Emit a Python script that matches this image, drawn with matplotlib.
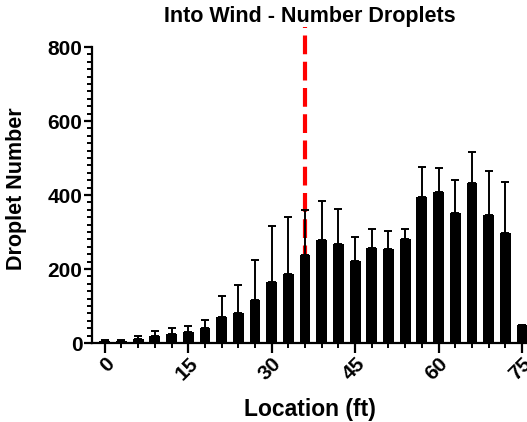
import numpy as np
import matplotlib
matplotlib.use("Agg")
from matplotlib import pyplot as plt
from matplotlib.ticker import MultipleLocator

plt.rcParams["font.family"] = ["Liberation Sans", "DejaVu Sans"]
plt.rcParams["font.weight"] = "bold"

# Location of each sampling point (ft) and droplet counts
location = [0, 3, 6, 9, 12, 15, 18, 21, 24, 27, 30, 33, 36,
            39, 42, 45, 48, 51, 54, 57, 60, 63, 66, 69, 72, 75]
droplets = [5, 5, 11, 19, 25, 30, 40, 70, 81, 117, 165, 187, 239,
            279, 268, 222, 257, 255, 282, 395, 408, 351, 432, 345, 297, 48]
err_up = [2, 2, 8, 13, 16, 15, 23, 56, 77, 106, 151, 153, 120,
          104, 93, 65, 51, 49, 27, 81, 65, 90, 85, 121, 137, 0]
wind_line = 36
x_ticks = [0, 15, 30, 45, 60, 75]

fig = plt.figure(figsize=(5.27, 4.22), dpi=100)
ax = fig.add_axes([0.1746, 0.1872, 0.8254, 0.7014])

# dashed marker line, drawn behind the bars and poking above the axes
ax.plot([wind_line, wind_line], [0, 855], color="#FF0000", lw=3,
        dashes=(4.5, 1.8), clip_on=False, zorder=1)

ax.bar(location, droplets, width=1.95, color="black", zorder=2)
ax.errorbar(location, droplets,
            yerr=[np.zeros(len(err_up)), err_up],
            fmt="none", ecolor="black", elinewidth=1.4,
            capsize=2.6, capthick=1.4, zorder=3)

ax.set_xlim(-2.3, 75.9)
ax.set_ylim(0, 800)
ax.set_xticks(x_ticks)
ax.xaxis.set_minor_locator(MultipleLocator(3))
ax.yaxis.set_major_locator(MultipleLocator(200))
ax.yaxis.set_minor_locator(MultipleLocator(20))

ax.spines["top"].set_visible(False)
ax.spines["right"].set_visible(False)
ax.spines["left"].set_linewidth(1.6)
ax.spines["bottom"].set_linewidth(1.6)
ax.tick_params(axis="both", which="major", width=1.6, length=6,
               labelsize=15, pad=1)
ax.tick_params(axis="both", which="minor", width=1.4, length=3.5)
ax.tick_params(axis="x", which="major", length=7)

for lab in ax.get_xticklabels():
    lab.set_rotation(45)
    lab.set_ha("right")
    lab.set_va("top")
    lab.set_rotation_mode("anchor")
    lab.set_fontweight("bold")
for lab in ax.get_yticklabels():
    lab.set_fontweight("bold")

ax.set_title("Into Wind - Number Droplets", fontsize=15.5,
             fontweight="bold", pad=18)
ax.set_ylabel("Droplet Number", fontsize=15.5, fontweight="bold", labelpad=10)
ax.yaxis.set_label_coords(-0.15, 0.52)
ax.set_xlabel("Location (ft)", fontsize=16.5, fontweight="bold", labelpad=10)

fig.savefig("out.png", dpi=100)
